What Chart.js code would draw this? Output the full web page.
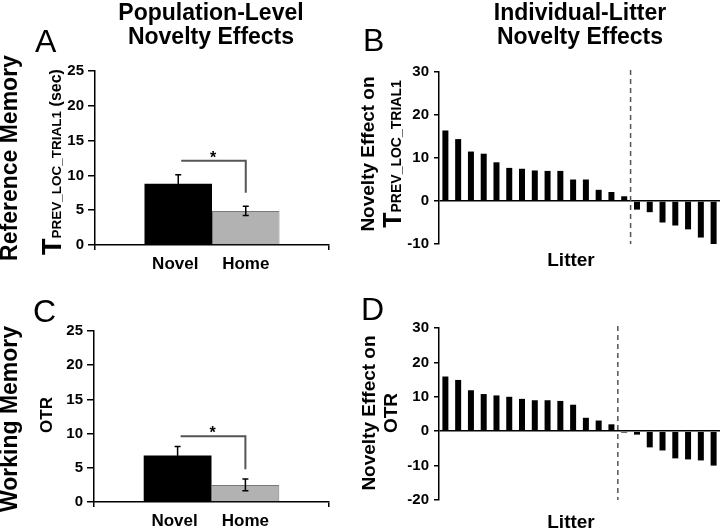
<!DOCTYPE html>
<html><head><meta charset="utf-8">
<script src="https://cdn.jsdelivr.net/npm/chart.js@4"></script>
<style>
body{margin:0;width:720px;height:528px;background:#fff;position:relative;overflow:hidden;font-family:"Liberation Sans",Arial,sans-serif;color:#000;}
canvas{position:absolute;left:0;top:0;}
.t{position:absolute;white-space:nowrap;font-weight:bold;}
.title{font-size:23px;line-height:24px;text-align:center;width:300px;top:0;}
.letter{font-weight:normal;font-size:32px;line-height:32px;}
.rot{position:absolute;text-align:center;white-space:nowrap;transform:rotate(-90deg);font-weight:bold;}
</style></head><body>
<canvas id="cA" width="720" height="528"></canvas>
<canvas id="cB" width="720" height="528"></canvas>
<canvas id="cC" width="720" height="528"></canvas>
<canvas id="cD" width="720" height="528"></canvas>

<div class="t title" style="left:61px;">Population-Level<br>Novelty Effects</div>
<div class="t title" style="left:430px;">Individual-Litter<br>Novelty Effects</div>
<div class="t letter" style="left:35px;top:25px;">A</div>
<div class="t letter" style="left:363px;top:24px;">B</div>
<div class="t letter" style="left:33px;top:295px;">C</div>
<div class="t letter" style="left:361px;top:293px;">D</div>

<div class="rot" style="left:-111px;top:145px;width:240px;height:26px;font-size:23px;line-height:26px;">Reference Memory</div>
<div class="rot" style="left:-111px;top:406px;width:240px;height:26px;font-size:23px;line-height:26px;">Working Memory</div>

<div class="rot" style="left:-48px;top:147px;width:200px;height:30px;line-height:30px;"><span style="font-size:27px;">T</span><span style="font-size:13.5px;">PREV_LOC_TRIAL1</span><span style="font-size:16px;"> (sec)</span></div>
<div class="rot" style="left:-53px;top:403px;width:200px;height:24px;line-height:24px;font-size:17px;">OTR</div>

<div class="rot" style="left:281px;top:130px;width:200px;height:48px;">
  <div style="font-size:19px;line-height:22px;">Novelty Effect on</div>
  <div style="line-height:26px;"><span style="font-size:25px;">T</span><span style="font-size:14px;">PREV_LOC_TRIAL1</span></div>
</div>
<div class="rot" style="left:281px;top:390px;width:200px;height:46px;">
  <div style="font-size:19px;line-height:22px;">Novelty Effect on</div>
  <div style="font-size:19px;line-height:22px;">OTR</div>
</div>

<div class="t" style="left:521px;top:249px;width:100px;text-align:center;font-size:19px;line-height:22px;">Litter</div>
<div class="t" style="left:521px;top:511px;width:100px;text-align:center;font-size:19px;line-height:22px;">Litter</div>

<script>
// ---------- DATA ----------
const groups = ['Novel', 'Home'];
const refMean = [8.8, 4.9];
const refErr = [1.3, 0.65];
const refBracket = [12.1, 7.5];     // [bracket level, right drop end]
const workMean = [6.8, 2.5];
const workErr = [1.3, 0.85];
const workBracket = [9.6, 4.8];
const yTicksPop = [0, 5, 10, 15, 20, 25];

const litters = ['1','2','3','4','5','6','7','8','9','10','11','12','13','14','15','16','17','18','19','20','21','22'];
const refEffect = [16.4, 14.4, 11.5, 11.0, 9.0, 7.7, 7.5, 7.1, 7.0, 7.0, 5.0, 5.0, 2.6, 2.1, 1.1, -2.0, -2.6, -5.0, -5.7, -6.6, -8.5, -10.0];
const workEffect = [15.9, 14.9, 11.9, 10.8, 10.4, 10.0, 9.4, 9.0, 9.0, 8.8, 7.7, 3.9, 3.1, 2.0, -0.4, -1.0, -4.7, -5.6, -7.9, -8.2, -8.5, -10.0];
const refSplit = 15;   // number of litters with positive effect
const workSplit = 14;
const yTicksRefLit = [-10, 0, 10, 20, 30];
const yTicksWorkLit = [-20, -10, 0, 10, 20, 30];

// ---------- STYLE ----------
Chart.defaults.font.family = '"Liberation Sans", Arial, sans-serif';
Chart.defaults.color = '#000';
const W = 720, H = 528, YW = 40;

function popChart(id, area, mean, err, bracket, ticks) {
  const annot = {
    id: 'annot' + id,
    afterDatasetsDraw(chart) {
      const ctx = chart.ctx, y = chart.scales.y;
      const xs = [0, 1].map(i => chart.getDatasetMeta(i).data[0].x);
      ctx.save();
      // error bars
      ctx.strokeStyle = '#000'; ctx.lineWidth = 1.5;
      xs.forEach((x, i) => {
        const t = y.getPixelForValue(mean[i] + err[i]);
        const b = y.getPixelForValue(mean[i] - err[i]);
        ctx.beginPath();
        ctx.moveTo(x, t); ctx.lineTo(x, b);
        ctx.moveTo(x - 3, t); ctx.lineTo(x + 3, t);
        ctx.moveTo(x - 3, b); ctx.lineTo(x + 3, b);
        ctx.stroke();
      });
      // significance bracket
      const yl = y.getPixelForValue(bracket[0]);
      const ye = y.getPixelForValue(bracket[1]);
      ctx.strokeStyle = '#555'; ctx.lineWidth = 2;
      ctx.beginPath();
      ctx.moveTo(xs[0] + 3, yl); ctx.lineTo(xs[1], yl); ctx.lineTo(xs[1], ye);
      ctx.stroke();
      ctx.fillStyle = '#000';
      ctx.font = 'bold 16px "Liberation Sans", Arial, sans-serif';
      ctx.textAlign = 'center'; ctx.textBaseline = 'alphabetic';
      ctx.fillText('*', (xs[0] + xs[1]) / 2 + 1, yl + 2);
      // group labels
      ctx.font = 'bold 17px "Liberation Sans", Arial, sans-serif';
      const lb = chart.chartArea.bottom + 24;
      xs.forEach((x, i) => ctx.fillText(groups[i], x + (i === 0 ? -3 : 0), lb));
      ctx.restore();
    }
  };
  return new Chart(document.getElementById(id), {
    type: 'bar',
    data: {
      labels: [''],
      datasets: [
        { label: groups[0], data: [mean[0]], backgroundColor: '#000', borderColor: '#000', borderWidth: 0 },
        { label: groups[1], data: [mean[1]], backgroundColor: '#b2b2b2', borderColor: '#7a7a7a', borderWidth: 1 }
      ]
    },
    options: {
      responsive: false, animation: false,
      layout: { padding: { left: area.l - YW, top: area.t, right: W - area.r, bottom: H - area.b - 8 } },
      plugins: { legend: { display: false }, tooltip: { enabled: false } },
      datasets: { bar: { categoryPercentage: 0.577, barPercentage: 1 } },
      scales: {
        x: {
          afterFit(s) { s.height = 8; },
          ticks: { display: false },
          grid: { offset: true, drawOnChartArea: false, drawTicks: true, tickLength: 5, color: '#000', lineWidth: 1.5 },
          border: { display: true, color: '#000', width: 1.5 }
        },
        y: {
          min: ticks[0], max: ticks[ticks.length - 1],
          afterFit(s) { s.width = YW; },
          afterBuildTicks(s) { s.ticks = ticks.map(v => ({ value: v })); },
          ticks: { font: { size: 15, weight: 'bold' }, padding: 4, color: '#000' },
          grid: { drawOnChartArea: false, tickLength: 7, color: '#000', lineWidth: 1.5 },
          border: { display: true, color: '#000', width: 1.5 }
        }
      }
    },
    plugins: [annot]
  });
}

function litterChart(id, area, values, split, ticks, dashTop, dashBottom) {
  const dash = {
    id: 'dash' + id,
    afterDatasetsDraw(chart) {
      const ctx = chart.ctx, x = chart.scales.x;
      const px = x.getPixelForValue(split - 0.5);
      ctx.save();
      ctx.strokeStyle = '#555'; ctx.lineWidth = 1.5;
      ctx.setLineDash([5, 4]);
      ctx.beginPath();
      ctx.moveTo(px, chart.chartArea.top + dashTop);
      ctx.lineTo(px, chart.chartArea.bottom + dashBottom);
      ctx.stroke();
      ctx.restore();
    }
  };
  return new Chart(document.getElementById(id), {
    type: 'bar',
    data: {
      labels: litters,
      datasets: [{ label: 'Novelty effect', data: values, backgroundColor: '#000', borderWidth: 0 }]
    },
    options: {
      responsive: false, animation: false,
      layout: { padding: { left: area.l - YW, top: area.t, right: W - area.r, bottom: H - area.b } },
      plugins: { legend: { display: false }, tooltip: { enabled: false } },
      datasets: { bar: { categoryPercentage: 1, barPercentage: 0.47 } },
      scales: {
        x: { display: false },
        y: {
          min: ticks[0], max: ticks[ticks.length - 1],
          afterFit(s) { s.width = YW; },
          afterBuildTicks(s) { s.ticks = ticks.map(v => ({ value: v })); },
          ticks: { font: { size: 15, weight: 'bold' }, padding: 5, color: '#000' },
          grid: {
            drawOnChartArea: true, tickLength: 5, lineWidth: 1.5, tickColor: '#000', tickWidth: 1.5,
            color: c => (c.tick && c.tick.value === 0) ? '#000' : 'rgba(0,0,0,0)'
          },
          border: { display: true, color: '#000', width: 1.5 }
        }
      }
    },
    plugins: [dash]
  });
}

popChart('cA', { l: 95, t: 71, r: 329, b: 245 }, refMean, refErr, refBracket, yTicksPop);
popChart('cC', { l: 94, t: 331, r: 329, b: 502 }, workMean, workErr, workBracket, yTicksPop);
litterChart('cB', { l: 439, t: 72, r: 720, b: 244 }, refEffect, refSplit, yTicksRefLit, -2, 0);
litterChart('cD', { l: 439, t: 328, r: 720, b: 500 }, workEffect, workSplit, yTicksWorkLit, -2, 0);
</script>
</body></html>
